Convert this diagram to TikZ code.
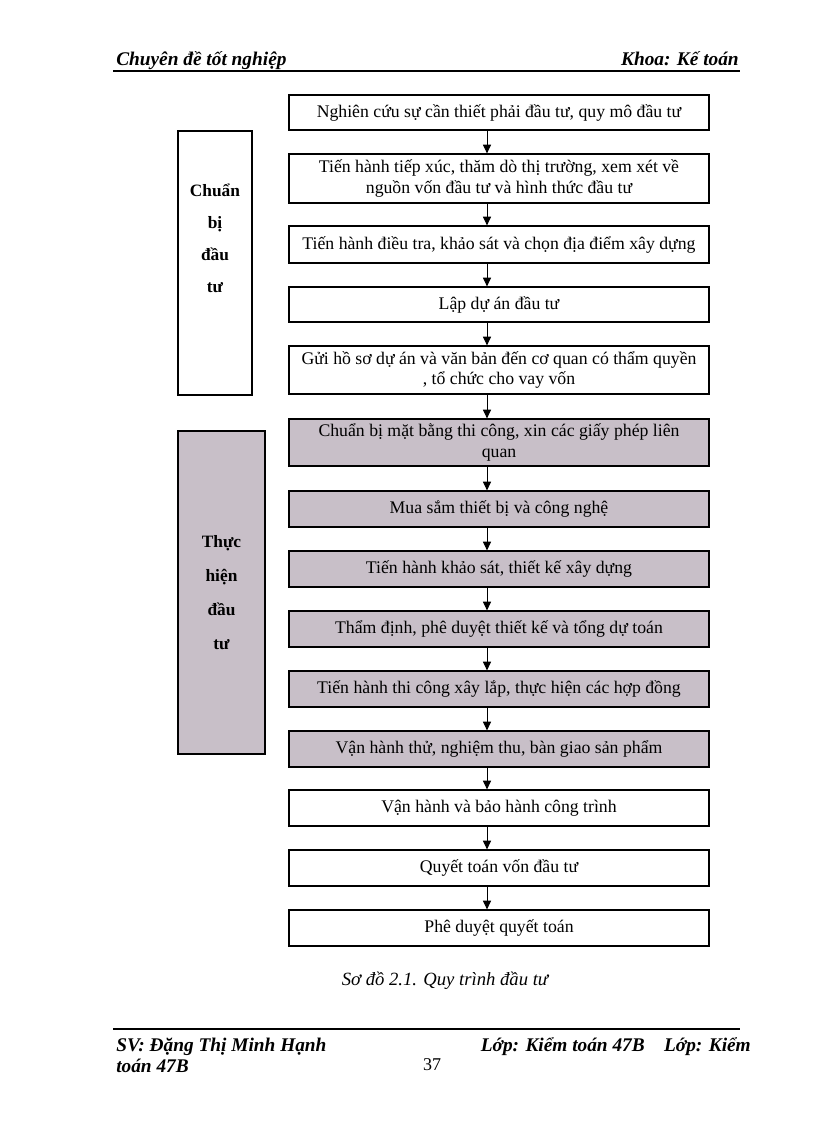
\documentclass[tikz,border=0pt]{standalone}
\usepackage{fontspec}
\setmainfont{Liberation Serif}
\usetikzlibrary{arrows.meta}
\definecolor{doingfill}{RGB}{200,191,200}

\begin{document}
\begin{tikzpicture}
      [x=0.75pt, y=-0.75pt,
       stagebox/.style={draw, line width=0.9pt, minimum width=315pt,
         minimum height=#1*0.75pt, inner sep=2pt, align=center,
         font=\fontsize{13.3}{15.5}\selectfont},
       stagebox/.default=36,
       phasebox/.style={draw, line width=0.9pt, align=center,
         font=\fontsize{13}{24}\selectfont\bfseries},
       headtext/.style={inner sep=0pt, font=\fontsize{14.5}{16}\selectfont\bfseries\itshape},
       flow/.style={-{Triangle[length=6.5pt,width=6pt]}, line width=0.7pt}]
      \useasboundingbox (0,0) rectangle (816,1123);

      % header
      \node [headtext, anchor=base west] (chapter) at (116,66) {Chuyên đề tốt nghiệp};
      \node [headtext, anchor=base east] (faculty) at (739,66) {Khoa: Kế toán};
      \draw [line width=1.5pt] (113,71.5) -- (740,71.5);

      % steps
      \node [stagebox=35] (s1) at (499,112.5) {Nghiên cứu sự cần thiết phải đầu tư, quy mô đầu tư};
      \node [stagebox=49] (s2) at (499,178.5) {Tiến hành tiếp xúc, thăm dò thị trường, xem xét về\\nguồn vốn đầu tư và hình thức đầu tư};
      \node [stagebox=37] (s3) at (499,244.5) {Tiến hành điều tra, khảo sát và chọn địa điểm xây dựng};
      \node [stagebox=35] (s4) at (499,304.5) {Lập dự án đầu tư};
      \node [stagebox=48] (s5) at (499,370) {Gửi hồ sơ dự án và văn bản đến cơ quan có thẩm quyền\\, tổ chức cho vay vốn};
      \node [stagebox=47, fill=doingfill] (s6) at (499,442.5) {Chuẩn bị mặt bằng thi công, xin các giấy phép liên\\quan};
      \node [stagebox, fill=doingfill] (s7) at (499,509) {Mua sắm thiết bị và công nghệ};
      \node [stagebox, fill=doingfill] (s8) at (499,569) {Tiến hành khảo sát, thiết kế xây dựng};
      \node [stagebox, fill=doingfill] (s9) at (499,629) {Thẩm định, phê duyệt thiết kế và tổng dự toán};
      \node [stagebox, fill=doingfill] (s10) at (499,689) {Tiến hành thi công xây lắp, thực hiện các hợp đồng};
      \node [stagebox, fill=doingfill] (s11) at (499,749) {Vận hành thử, nghiệm thu, bàn giao sản phẩm};
      \node [stagebox] (s12) at (499,808) {Vận hành và bảo hành công trình};
      \node [stagebox] (s13) at (499,868) {Quyết toán vốn đầu tư};
      \node [stagebox] (s14) at (499,928) {Phê duyệt quyết toán};

      \coordinate (ax) at (487,0);
      \foreach \from/\to in {s1/s2, s2/s3, s3/s4, s4/s5, s5/s6, s6/s7, s7/s8,
                             s8/s9, s9/s10, s10/s11, s11/s12, s12/s13, s13/s14}
      \draw [flow] (\from.south -| ax) -- (\to.north -| ax);

      % phases
      \node [phasebox, minimum width=55.5pt, minimum height=198pt] (prep) at (215,263) {};
      \node [phasebox, draw=none] (preptext) at (215,238.5) {Chuẩn\\bị\\đầu\\tư};
      \node [phasebox, fill=doingfill, minimum width=65.25pt, minimum height=242.25pt,
             font=\fontsize{13}{25.5}\selectfont\bfseries] (exec) at (221.5,592.5) {Thực\\hiện\\đầu\\tư};

      % caption
      \node [font=\fontsize{14}{16}\selectfont\itshape] (caption) at (445,981) {Sơ đồ 2.1. Quy trình đầu tư};

      % footer
      \draw [line width=1.5pt] (113,1028.5) -- (740,1028.5);
      \node [headtext, anchor=base west] (student) at (116,1051) {SV: Đặng Thị Minh Hạnh};
      \node [headtext, anchor=base west] (student2) at (116,1072) {toán 47B};
      \node [inner sep=0pt, anchor=base, font=\fontsize{13.5}{15}\selectfont] (page) at (432,1070) {37};
      \node [headtext, anchor=base east] (class) at (751,1051) {Lớp: Kiểm toán 47B\quad Lớp: Kiểm};
    \end{tikzpicture}
\end{document}
